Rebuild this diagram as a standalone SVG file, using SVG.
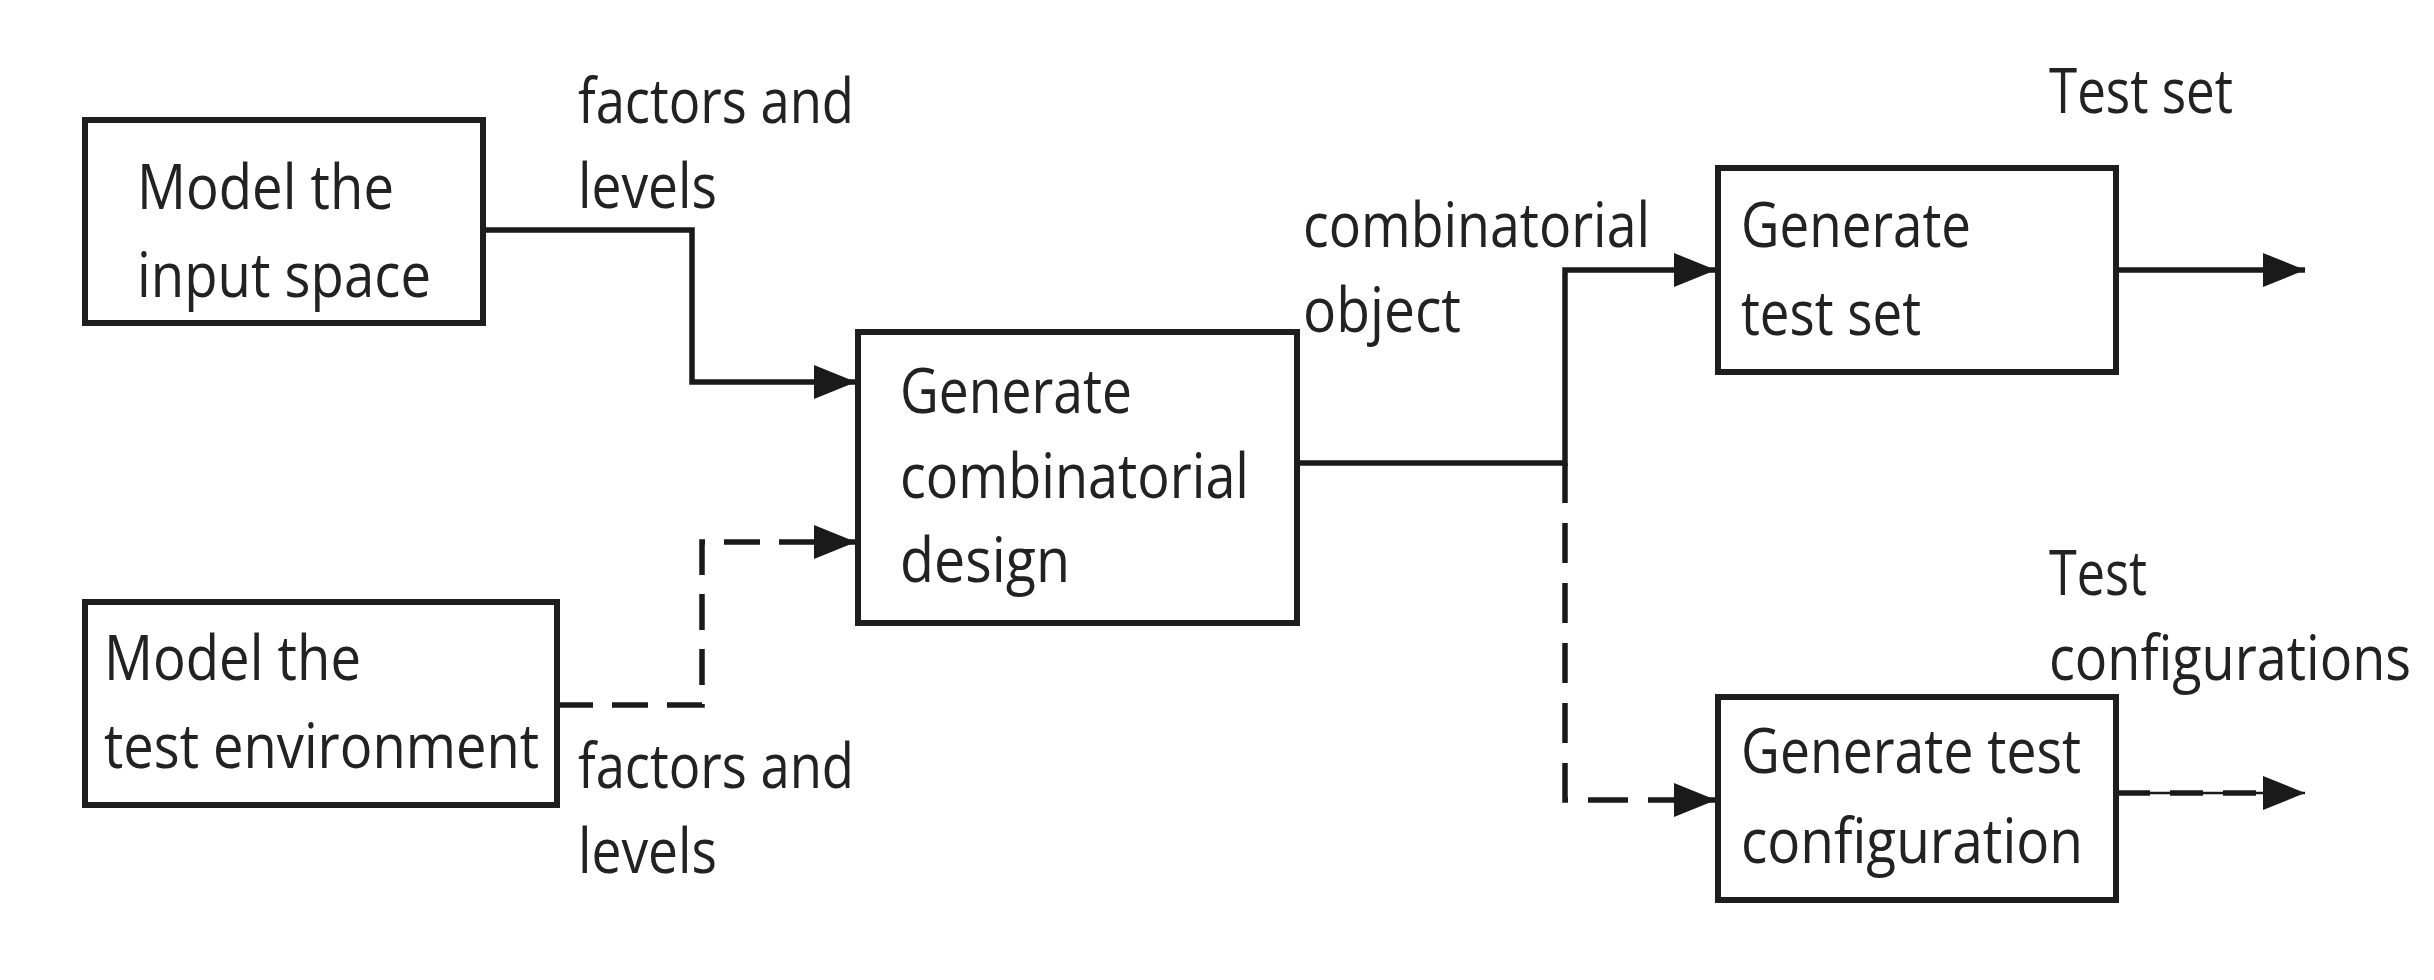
<svg xmlns="http://www.w3.org/2000/svg" width="2434" height="980" viewBox="0 0 2434 980">
<style>
.box{fill:#fff;stroke:#1e1e1e;stroke-width:6}
.t{font-family:"Open Sans","Liberation Sans",sans-serif;font-size:63px;fill:#222}
.ln{fill:none;stroke:#1a1a1a;stroke-width:5.5}
.dash{stroke-dasharray:36 19}
.vdash{stroke-dasharray:40 20}
</style>
<defs>
<marker id="arr" markerUnits="userSpaceOnUse" markerWidth="44" markerHeight="36" refX="42" refY="17" orient="auto">
<path d="M0,0 L42,17 L0,34 z" fill="#1a1a1a"/>
</marker>
</defs>
<rect width="2434" height="980" fill="#fff"/>
<g id="connectors">
<path class="ln" d="M483,230 H692 V382 H856" marker-end="url(#arr)"/>
<path class="ln dash" d="M557,705 H702 V542 H856" marker-end="url(#arr)"/>
<path class="ln" d="M1297,463 H1565 V270 H1716" marker-end="url(#arr)"/>
<path class="ln" d="M1565,463 V503"/>
<path class="ln vdash" d="M1565,523 V800 H1716" marker-end="url(#arr)"/>
<path class="ln" d="M2116,270 H2305" marker-end="url(#arr)"/>
<path class="ln" style="stroke-width:2.5" d="M2116,793 H2305" marker-end="url(#arr)"/>
<path class="ln" style="stroke-dasharray:33 20" d="M2117,793 H2262"/>
</g>
<g id="labels">
<text class="t" x="578" y="123" textLength="276" lengthAdjust="spacingAndGlyphs">factors and</text>
<text class="t" x="578" y="208" textLength="139" lengthAdjust="spacingAndGlyphs">levels</text>
<text class="t" x="578" y="788" textLength="276" lengthAdjust="spacingAndGlyphs">factors and</text>
<text class="t" x="578" y="873" textLength="139" lengthAdjust="spacingAndGlyphs">levels</text>
<text class="t" x="1303" y="247" textLength="347" lengthAdjust="spacingAndGlyphs">combinatorial</text>
<text class="t" x="1303" y="332" textLength="158" lengthAdjust="spacingAndGlyphs">object</text>
<text class="t" x="2049" y="113" textLength="184" lengthAdjust="spacingAndGlyphs">Test set</text>
<text class="t" x="2049" y="595" textLength="98" lengthAdjust="spacingAndGlyphs">Test</text>
<text class="t" x="2049" y="680" textLength="362" lengthAdjust="spacingAndGlyphs">configurations</text>
</g>
<g id="node-input">
<rect class="box" x="85" y="120" width="398" height="203"/>
<text class="t" x="137" y="209" textLength="257" lengthAdjust="spacingAndGlyphs">Model the</text>
<text class="t" x="137" y="297" textLength="294" lengthAdjust="spacingAndGlyphs">input space</text>
</g>
<g id="node-env">
<rect class="box" x="85" y="602" width="472" height="203"/>
<text class="t" x="104" y="680" textLength="257" lengthAdjust="spacingAndGlyphs">Model the</text>
<text class="t" x="104" y="768" textLength="435" lengthAdjust="spacingAndGlyphs">test environment</text>
</g>
<g id="node-design">
<rect class="box" x="858" y="332" width="439" height="291"/>
<text class="t" x="900" y="413" textLength="232" lengthAdjust="spacingAndGlyphs">Generate</text>
<text class="t" x="900" y="498" textLength="349" lengthAdjust="spacingAndGlyphs">combinatorial</text>
<text class="t" x="900" y="582" textLength="170" lengthAdjust="spacingAndGlyphs">design</text>
</g>
<g id="node-testset">
<rect class="box" x="1718" y="168" width="398" height="204"/>
<text class="t" x="1741" y="247" textLength="230" lengthAdjust="spacingAndGlyphs">Generate</text>
<text class="t" x="1741" y="335" textLength="180" lengthAdjust="spacingAndGlyphs">test set</text>
</g>
<g id="node-config">
<rect class="box" x="1718" y="697" width="398" height="203"/>
<text class="t" x="1741" y="773" textLength="340" lengthAdjust="spacingAndGlyphs">Generate test</text>
<text class="t" x="1741" y="863" textLength="342" lengthAdjust="spacingAndGlyphs">configuration</text>
</g>
</svg>
